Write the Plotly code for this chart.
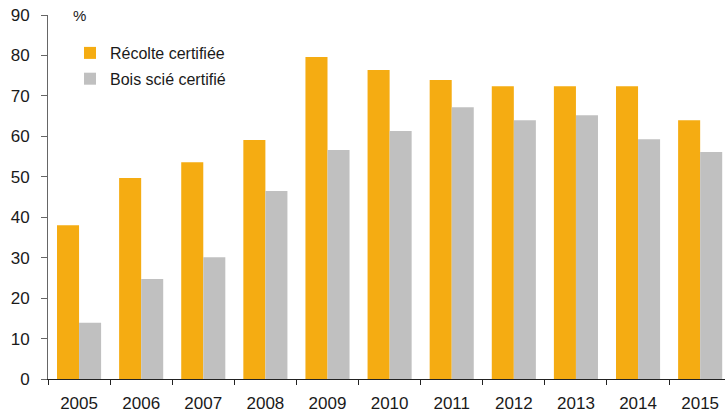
import plotly.graph_objects as go

years = ["2005", "2006", "2007", "2008", "2009", "2010", "2011", "2012", "2013", "2014", "2015"]
recolte = [38.0, 49.7, 53.6, 59.1, 79.6, 76.4, 73.9, 72.4, 72.4, 72.4, 64.0]
bois = [13.9, 24.7, 30.1, 46.5, 56.6, 61.3, 67.2, 64.0, 65.2, 59.3, 56.1]
y_ticks = [0, 10, 20, 30, 40, 50, 60, 70, 80, 90]

ORANGE = "#F5AC12"
GREY = "#C0C0C0"
FONT = "Liberation Sans, Arial, sans-serif"

fig = go.Figure()
fig.add_trace(go.Bar(x=years, y=recolte, name="Récolte certifiée",
                     marker=dict(color=ORANGE, line=dict(width=0)),
                     legendgroup="a"))
fig.add_trace(go.Bar(x=years, y=bois, name="Bois scié certifié",
                     marker=dict(color=GREY, line=dict(width=0)),
                     legendgroup="b"))

fig.update_layout(
    width=725, height=414,
    margin=dict(l=48, r=0, t=15, b=35),
    paper_bgcolor="white", plot_bgcolor="white",
    font=dict(family=FONT, size=17, color="#1a1a1a"),
    barmode="group", bargap=0.29, bargroupgap=0,
    showlegend=True,
    legend=dict(x=(70 - 48) / 677, y=(379 - 36) / 364, xanchor="left", yanchor="top",
                font=dict(size=16, family=FONT, color="#1a1a1a"),
                bgcolor="rgba(0,0,0,0)", tracegroupgap=2,
                itemwidth=30),
    xaxis=dict(type="category", range=[-0.5, 10.4], showgrid=False,
               showline=True, linecolor="#222222", linewidth=1,
               ticks="outside", tickson="boundaries", ticklen=5,
               tickcolor="#222222", ticklabelstandoff=9,
               tickfont=dict(size=17), automargin=False),
    yaxis=dict(range=[0, 90], tickvals=y_ticks, showgrid=False,
               showline=True, linecolor="#666666", linewidth=1,
               ticks="outside", ticklen=6, tickcolor="#666666",
               ticklabelstandoff=8, tickfont=dict(size=17), zeroline=False,
               automargin=False),
    annotations=[dict(text="%", x=(79 - 48) / 677, y=1.0, xref="paper", yref="paper",
                      xanchor="center", yanchor="middle",
                      showarrow=False, font=dict(size=15))],
)
fig.write_html("out.html", config={"displayModeBar": False},
               post_script="document.body.style.margin='0';")
